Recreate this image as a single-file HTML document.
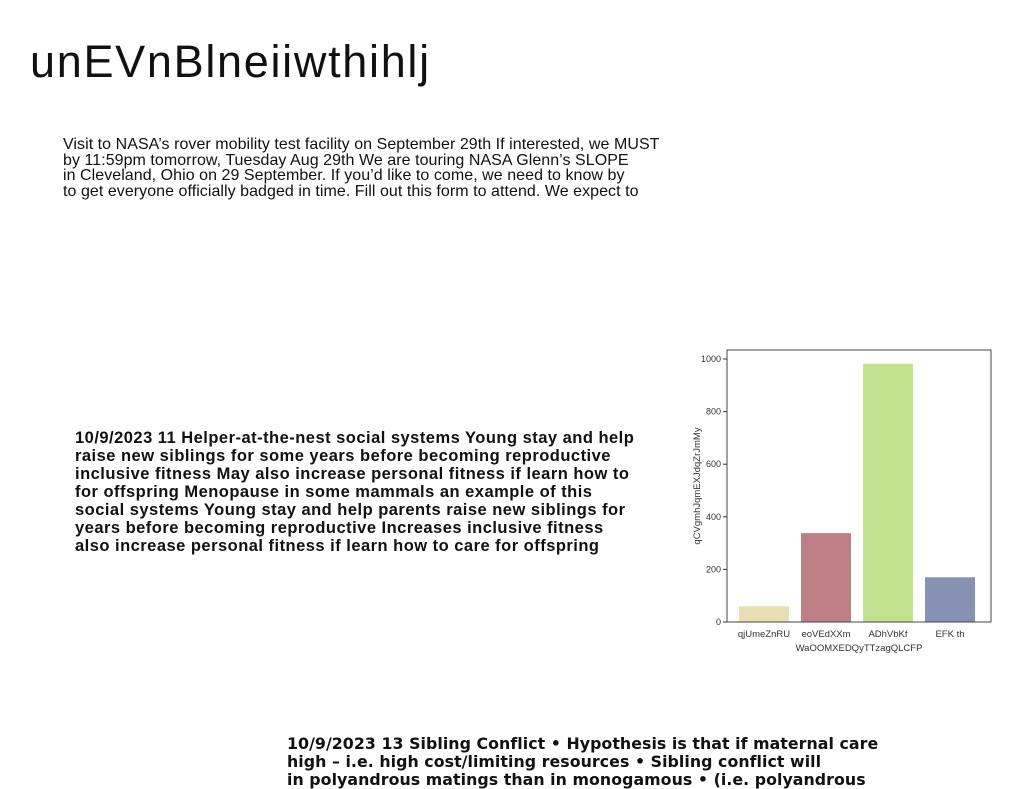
<!DOCTYPE html>
<html><head><meta charset="utf-8"><style>
body{margin:0;width:1024px;height:788px;background:#fff;overflow:hidden;position:relative;font-family:"Liberation Sans",sans-serif;color:#111}
.abs{position:absolute;margin:0}
#title{left:30px;top:36px;font-size:45px;font-weight:normal;letter-spacing:1.7px}
#p1{left:63px;top:137px;font-size:16px;line-height:15.5px;white-space:pre;letter-spacing:0.05px}
#p2{left:75px;top:429px;font-size:16.5px;line-height:18px;font-weight:bold;white-space:pre;letter-spacing:0.48px}
#p3{left:287px;top:735px;font-size:15.8px;line-height:18px;font-weight:bold;white-space:pre;font-family:"DejaVu Sans",sans-serif;letter-spacing:0.05px}
svg text{font-family:"Liberation Sans",sans-serif;fill:#333}
</style></head><body>
<h1 id="title" class="abs">unEVnBlneiiwthihlj</h1>
<p id="p1" class="abs">Visit to NASA’s rover mobility test facility on September 29th If interested, we MUST
by 11:59pm tomorrow, Tuesday Aug 29th We are touring NASA Glenn’s SLOPE
in Cleveland, Ohio on 29 September. If you’d like to come, we need to know by
to get everyone officially badged in time. Fill out this form to attend. We expect to</p>
<p id="p2" class="abs">10/9/2023 11 Helper-at-the-nest social systems Young stay and help
raise new siblings for some years before becoming reproductive
inclusive fitness May also increase personal fitness if learn how to
for offspring Menopause in some mammals an example of this
social systems Young stay and help parents raise new siblings for
years before becoming reproductive Increases inclusive fitness
also increase personal fitness if learn how to care for offspring</p>
<p id="p3" class="abs">10/9/2023 13 Sibling Conflict • Hypothesis is that if maternal care
high – i.e. high cost/limiting resources • Sibling conflict will
in polyandrous matings than in monogamous • (i.e. polyandrous</p>
<svg id="chart" class="abs" style="left:0;top:0" width="1024" height="788"></svg>
<script>
const categories=["qjUmeZnRU","eoVEdXXm","ADhVbKf","EFK th"];
const values=[60,338,982,170];
const colors=["#e8e0b5","#be8085","#c3e28f","#8691b3"];
const yTicks=[0,200,400,600,800,1000];
const L=727,R=991,T=350,B=622,Y1000=359;
const y=v=>B-(B-Y1000)*v/1000;
const xc=i=>764+i*62;
const bw=50;
const svg=document.getElementById('chart');
const NS="http://www.w3.org/2000/svg";
function mk(t,a){const e=document.createElementNS(NS,t);for(const k in a)e.setAttribute(k,a[k]);svg.appendChild(e);return e;}
values.forEach((v,i)=>{
 const r=mk('rect',{x:xc(i)-bw/2,y:y(v),width:bw,height:B-y(v),fill:colors[i]});
 
 
 const t=mk('text',{x:xc(i),y:B+15,'font-size':9.5,'text-anchor':'middle'});t.textContent=categories[i];
 
 
});
yTicks.forEach(v=>{
 mk('line',{x1:L-4,x2:L,y1:y(v),y2:y(v),stroke:'#333','stroke-width':1});
 const t=mk('text',{x:L-6,y:y(v)+3,'font-size':9,'text-anchor':'end'});t.textContent=v;
 
 
});
const f=mk('rect',{x:L,y:T,width:R-L,height:B-T,fill:'none',stroke:'#444','stroke-width':1});


const xt=mk('text',{x:(L+R)/2,y:B+29,'font-size':9.5,'text-anchor':'middle'});xt.textContent="WaOOMXEDQyTTzagQLCFP";


const yt=mk('text',{x:0,y:0,'font-size':9.5,'text-anchor':'middle',transform:`translate(700,${(T+B)/2}) rotate(-90)`});yt.textContent="qCVgmhJqmEXJdqZrJmMy";


</script>
</body></html>
